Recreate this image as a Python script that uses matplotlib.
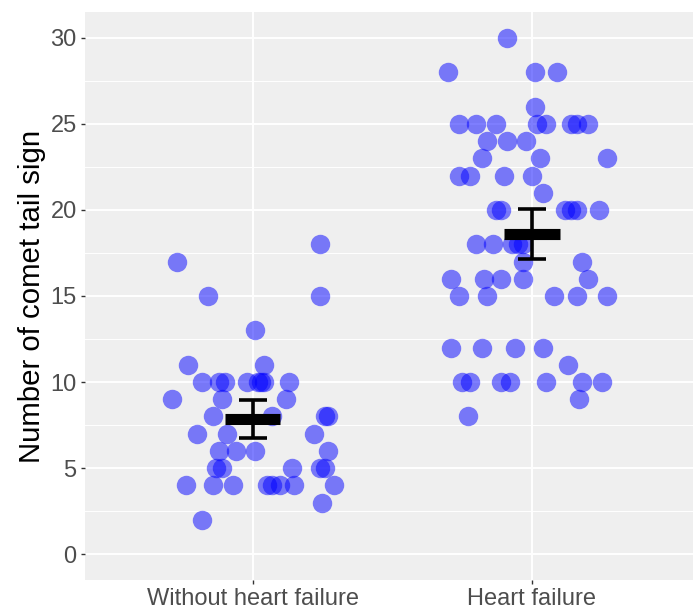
import numpy as np
from matplotlib import pyplot as plt
from matplotlib.ticker import MultipleLocator

groups = ['Without heart failure', 'Heart failure']

# comet tail counts per patient, with the horizontal jitter of each dot
counts_without = [17, 18, 15, 15, 13, 11, 11,
                  10, 10, 10, 10, 10, 10, 10, 10,
                  9, 9, 9,
                  8, 8, 8, 8,
                  7, 7, 7,
                  6, 6, 6, 6,
                  5, 5, 5, 5, 5,
                  4, 4, 4, 4, 4, 4, 4, 4,
                  3, 2]
jitter_without = [-0.27, 0.24, -0.16, 0.24, 0.01, -0.23, 0.04,
                  -0.18, -0.12, -0.10, -0.02, 0.02, 0.03, 0.04, 0.13,
                  -0.29, -0.11, 0.12,
                  -0.14, 0.07, 0.26, 0.27,
                  -0.20, -0.09, 0.22,
                  -0.12, -0.06, 0.01, 0.27,
                  -0.13, -0.11, 0.14, 0.24, 0.26,
                  -0.24, -0.14, -0.07, 0.05, 0.07, 0.10, 0.15, 0.29,
                  0.25, -0.18]

counts_hf = [30, 28, 28, 28, 26,
             25, 25, 25, 25, 25, 25, 25, 25,
             24, 24, 24, 23, 23, 23,
             22, 22, 22, 22, 21,
             20, 20, 20, 20, 20, 20,
             18, 18, 18, 18, 18, 17, 17,
             16, 16, 16, 16, 16,
             15, 15, 15, 15, 15,
             12, 12, 12, 12, 11,
             10, 10, 10, 10, 10, 10, 10,
             9, 8]
jitter_hf = [-0.09, -0.30, 0.01, 0.09, 0.01,
             -0.26, -0.20, -0.13, 0.02, 0.05, 0.14, 0.16, 0.20,
             -0.16, -0.09, -0.02, -0.18, 0.03, 0.27,
             -0.26, -0.22, -0.10, 0.00, 0.04,
             -0.13, -0.11, 0.12, 0.14, 0.16, 0.24,
             -0.20, -0.14, -0.07, -0.05, -0.03, -0.03, 0.18,
             -0.29, -0.17, -0.11, -0.03, 0.20,
             -0.26, -0.16, 0.08, 0.16, 0.27,
             -0.29, -0.18, -0.06, 0.04, 0.13,
             -0.25, -0.22, -0.11, -0.08, 0.05, 0.18, 0.25,
             0.17, -0.23]

label_font = ['Liberation Sans', 'DejaVu Sans']

fig = plt.figure(figsize=(6.93, 6.11), dpi=100)
ax = fig.add_axes([85 / 693, 31 / 611, 608 / 693, 568 / 611])
ax.set_facecolor('#EFEFEF')

for i, (vals, jit) in enumerate([(counts_without, jitter_without), (counts_hf, jitter_hf)]):
    xpos = i + 1 + np.array(jit)
    ax.plot(xpos, vals, 'o', color='blue', alpha=0.5, markersize=14,
            markeredgewidth=0, zorder=3)

    # mean with 95% confidence interval
    vals = np.array(vals, dtype=float)
    mean = vals.mean()
    ci = 1.96 * vals.std(ddof=1) / np.sqrt(len(vals))
    ax.errorbar(i + 1, mean, yerr=ci, color='black', linewidth=2.6,
                capsize=10, capthick=2.6, zorder=4)
    ax.hlines(mean, i + 1 - 0.1, i + 1 + 0.1, color='black', linewidth=8, zorder=5)

ax.set_xlim(0.4, 2.577)
ax.set_ylim(-1.5, 31.5)
ax.set_xticks([1, 2])
ax.set_xticklabels(groups)
ax.yaxis.set_major_locator(MultipleLocator(5))
ax.yaxis.set_minor_locator(MultipleLocator(2.5))

ax.grid(which='major', color='white', linewidth=1.4, zorder=0)
ax.grid(which='minor', axis='y', color='white', linewidth=0.7, zorder=0)
ax.set_axisbelow(True)
for s in ax.spines.values():
    s.set_visible(False)

ax.tick_params(which='major', length=3, width=1, color='#333333', labelcolor='#4D4D4D',
               labelsize=17, pad=3)
ax.tick_params(which='minor', length=0)
for lbl in ax.get_xticklabels() + ax.get_yticklabels():
    lbl.set_family(label_font)

ax.set_ylabel('Number of comet tail sign', fontsize=21.2, family=label_font,
              color='black', labelpad=3)

plt.savefig('out.png', dpi=100)
plt.close()
